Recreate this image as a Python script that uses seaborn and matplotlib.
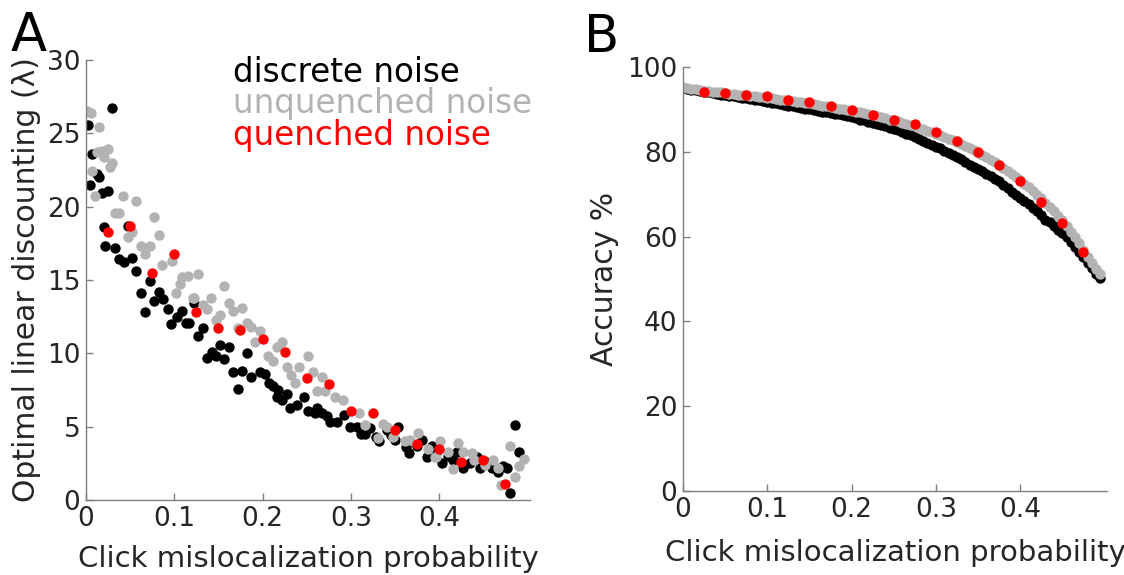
import numpy as np
import pandas as pd
import matplotlib
matplotlib.use("Agg")
import matplotlib.pyplot as plt
import seaborn as sns

# ---------------- Panel A data ----------------
discrete_x = [0.002, 0.005, 0.007, 0.012, 0.015, 0.018, 0.020, 0.022, 0.025, 0.030,
              0.033, 0.037, 0.043, 0.048, 0.052, 0.057, 0.062, 0.067, 0.072, 0.077,
              0.083, 0.087, 0.093, 0.096, 0.103, 0.109, 0.113, 0.117, 0.122, 0.127,
              0.132, 0.137, 0.143, 0.147, 0.152, 0.156, 0.162, 0.166, 0.172, 0.177,
              0.182, 0.187, 0.197, 0.203, 0.207, 0.212, 0.216, 0.218, 0.222, 0.228,
              0.231, 0.239, 0.247, 0.251, 0.259, 0.262, 0.267, 0.273, 0.276, 0.284,
              0.292, 0.299, 0.307, 0.311, 0.316, 0.322, 0.328, 0.332, 0.341, 0.345,
              0.350, 0.354, 0.362, 0.366, 0.375, 0.381, 0.386, 0.392, 0.396, 0.403,
              0.410, 0.416, 0.420, 0.427, 0.435, 0.443, 0.446, 0.453, 0.460, 0.467,
              0.472, 0.477, 0.480, 0.486, 0.490]
discrete_y = [25.6, 21.5, 23.6, 22.2, 22.0, 20.9, 18.6, 17.3, 21.1, 26.7,
              17.2, 16.4, 16.2, 18.7, 16.5, 15.6, 14.1, 12.8, 14.9, 13.6,
              14.2, 13.7, 13.0, 12.0, 12.5, 12.9, 12.1, 12.1, 13.4, 11.2,
              11.7, 9.7, 10.1, 9.8, 10.6, 9.6, 10.4, 8.7, 7.6, 8.8,
              10.0, 8.4, 8.7, 8.6, 8.0, 7.8, 7.0, 7.5, 6.8, 7.2,
              6.3, 6.5, 7.0, 6.1, 5.9, 6.3, 5.9, 5.7, 5.3, 5.3,
              5.8, 5.0, 5.0, 4.5, 4.5, 4.9, 4.3, 4.0, 4.8, 4.4,
              4.1, 5.0, 3.6, 3.2, 3.7, 4.1, 2.9, 3.7, 3.2, 2.5,
              3.0, 2.7, 3.3, 2.2, 2.5, 2.9, 2.2, 2.6, 2.2, 1.9,
              2.3, 2.2, 0.5, 5.1, 3.3]

unquenched_x = [0.001, 0.006, 0.007, 0.010, 0.012, 0.015, 0.018, 0.020, 0.025, 0.027,
                0.030, 0.033, 0.037, 0.042, 0.048, 0.052, 0.057, 0.062, 0.067, 0.072,
                0.077, 0.083, 0.086, 0.097, 0.102, 0.107, 0.109, 0.115, 0.121, 0.122,
                0.127, 0.132, 0.137, 0.142, 0.147, 0.152, 0.156, 0.162, 0.166, 0.172,
                0.177, 0.182, 0.187, 0.191, 0.197, 0.206, 0.212, 0.216, 0.222, 0.228,
                0.232, 0.237, 0.241, 0.251, 0.257, 0.262, 0.267, 0.271, 0.282, 0.291,
                0.309, 0.316, 0.331, 0.336, 0.341, 0.348, 0.361, 0.367, 0.376, 0.387,
                0.395, 0.397, 0.401, 0.410, 0.416, 0.421, 0.427, 0.437, 0.440, 0.452,
                0.461, 0.467, 0.470, 0.480, 0.486, 0.490, 0.496]
unquenched_y = [26.5, 26.4, 22.4, 20.7, 23.7, 25.4, 23.8, 23.4, 23.9, 22.7,
                23.0, 19.6, 19.6, 20.7, 17.9, 18.3, 20.4, 17.3, 16.8, 17.3,
                19.3, 18.1, 16.0, 16.3, 14.1, 14.7, 15.2, 15.3, 13.8, 13.8,
                15.4, 13.3, 13.0, 13.8, 12.3, 12.6, 14.6, 13.4, 12.9, 11.7,
                13.1, 12.1, 11.8, 10.8, 11.5, 9.8, 9.5, 10.4, 10.8, 9.1,
                8.5, 8.0, 9.1, 9.8, 8.7, 7.4, 8.4, 7.4, 7.0, 6.8,
                5.9, 5.1, 4.2, 5.2, 5.0, 4.3, 4.0, 4.1, 4.6, 3.5,
                2.9, 2.9, 4.0, 3.3, 2.1, 3.9, 3.3, 3.2, 2.7, 2.4,
                2.7, 2.2, 1.0, 3.7, 1.6, 2.3, 2.8]

quenched_x = [0.025, 0.050, 0.075, 0.100, 0.125, 0.150, 0.175, 0.200, 0.225, 0.250,
              0.275, 0.300, 0.325, 0.350, 0.375, 0.400, 0.425, 0.450, 0.475]
quenched_lambda = [18.3, 18.7, 15.5, 16.8, 12.8, 11.7, 11.6, 11.0, 10.1, 8.3,
                   7.9, 6.1, 5.9, 4.8, 3.8, 3.5, 2.6, 2.7, 1.1]

# ---------------- Panel B data ----------------
acc_x = [0.000, 0.005, 0.010, 0.015, 0.020, 0.025, 0.030, 0.035, 0.040, 0.045,
         0.050, 0.055, 0.060, 0.065, 0.070, 0.075, 0.080, 0.085, 0.090, 0.095,
         0.100, 0.105, 0.110, 0.115, 0.120, 0.125, 0.130, 0.135, 0.140, 0.145,
         0.150, 0.155, 0.160, 0.165, 0.170, 0.175, 0.180, 0.185, 0.190, 0.195,
         0.200, 0.205, 0.210, 0.215, 0.220, 0.225, 0.230, 0.235, 0.240, 0.245,
         0.250, 0.255, 0.260, 0.265, 0.270, 0.275, 0.280, 0.285, 0.290, 0.295,
         0.300, 0.305, 0.310, 0.315, 0.320, 0.325, 0.330, 0.335, 0.340, 0.345,
         0.350, 0.355, 0.360, 0.365, 0.370, 0.375, 0.380, 0.385, 0.390, 0.395,
         0.400, 0.405, 0.410, 0.415, 0.420, 0.425, 0.430, 0.435, 0.440, 0.445,
         0.450, 0.455, 0.460, 0.465, 0.470, 0.475, 0.480, 0.485, 0.490, 0.495]
acc_discrete = [95.0, 94.8, 94.6, 94.5, 94.3, 94.1, 94.0, 93.8, 93.7, 93.5,
                93.4, 93.2, 93.1, 92.9, 92.8, 92.6, 92.4, 92.3, 92.1, 91.9,
                91.8, 91.6, 91.5, 91.3, 91.1, 90.9, 90.8, 90.6, 90.4, 90.2,
                90.1, 89.9, 89.7, 89.5, 89.3, 89.1, 88.9, 88.8, 88.6, 88.4,
                88.2, 87.9, 87.6, 87.4, 87.1, 86.9, 86.6, 86.3, 86.0, 85.7,
                85.4, 85.1, 84.7, 84.3, 83.9, 83.5, 83.0, 82.6, 82.1, 81.7,
                81.2, 80.8, 80.3, 79.8, 79.3, 78.8, 78.2, 77.6, 77.0, 76.4,
                75.9, 75.4, 74.8, 74.2, 73.6, 73.0, 72.2, 71.4, 70.6, 69.9,
                69.1, 68.4, 67.6, 66.8, 66.0, 65.2, 64.0, 63.4, 62.5, 61.6,
                60.8, 59.8, 58.8, 57.6, 56.4, 55.1, 53.8, 52.5, 51.2, 50.2]
acc_unquenched = [95.3, 95.1, 94.9, 94.8, 94.6, 94.4, 94.3, 94.2, 94.1, 94.0,
                  93.9, 93.7, 93.6, 93.5, 93.4, 93.3, 93.2, 93.1, 93.0, 92.9,
                  92.8, 92.6, 92.5, 92.3, 92.2, 92.1, 92.0, 91.8, 91.7, 91.5,
                  91.4, 91.2, 91.1, 90.9, 90.8, 90.6, 90.4, 90.2, 90.1, 89.9,
                  89.7, 89.5, 89.3, 89.1, 88.9, 88.6, 88.4, 88.1, 87.9, 87.6,
                  87.4, 87.2, 86.9, 86.6, 86.3, 86.0, 85.7, 85.4, 85.0, 84.7,
                  84.3, 83.9, 83.5, 83.1, 82.7, 82.3, 81.8, 81.4, 80.9, 80.4,
                  79.8, 79.3, 78.7, 78.1, 77.5, 76.9, 76.2, 75.5, 74.8, 74.1,
                  73.3, 72.5, 71.7, 70.8, 69.9, 69.0, 68.0, 67.0, 66.0, 64.9,
                  63.8, 62.5, 61.2, 59.8, 58.4, 56.9, 55.3, 53.7, 52.3, 51.2]
acc_quenched = [94.2, 93.9, 93.4, 93.1, 92.3, 91.7, 90.8, 89.9, 88.7, 87.5,
                86.6, 84.7, 82.5, 79.9, 76.9, 73.1, 68.2, 63.2, 56.4]

xticks = [0, 0.1, 0.2, 0.3, 0.4]
xtick_labels = ["0", "0.1", "0.2", "0.3", "0.4"]
yticks_a = [0, 5, 10, 15, 20, 25, 30]
yticks_b = [0, 20, 40, 60, 80, 100]

legend_labels = ["discrete noise", "unquenched noise", "quenched noise"]
c_black = "#000000"
c_gray = "#b3b3b3"
c_red = "#ff0000"

sns.set_style("white")
plt.rcParams['font.family'] = ['DejaVu Sans']

fig = plt.figure(figsize=(11.24, 5.75), dpi=100)
W, H = 1124, 575
axA = fig.add_axes([86 / W, 1 - 500 / H, (530 - 86) / W, 440 / H])
axB = fig.add_axes([683 / W, 1 - 491 / H, (1107 - 683) / W, 424 / H])

ms = 56
sns.scatterplot(x=discrete_x, y=discrete_y, ax=axA, color=c_black, s=ms, linewidth=0)
sns.scatterplot(x=unquenched_x, y=unquenched_y, ax=axA, color=c_gray, s=ms, linewidth=0)
sns.scatterplot(x=quenched_x, y=quenched_lambda, ax=axA, color=c_red, s=ms, linewidth=0)

sns.scatterplot(x=acc_x, y=acc_discrete, ax=axB, color=c_black, s=ms, linewidth=0)
sns.scatterplot(x=acc_x, y=acc_unquenched, ax=axB, color=c_gray, s=ms, linewidth=0)
sns.scatterplot(x=quenched_x, y=acc_quenched, ax=axB, color=c_red, s=ms, linewidth=0)

tick_col = "#262626"
spine_col = "#7f7f7f"
for ax, yt, lp in ((axA, yticks_a, 10), (axB, yticks_b, 12)):
    ax.set_xlim(0, 0.503)
    ax.set_xticks(xticks)
    ax.set_xticklabels(xtick_labels)
    ax.set_yticks(yt)
    ax.set_ylim(yt[0], yt[-1])
    for s in ("top", "right"):
        ax.spines[s].set_visible(False)
    for s in ("left", "bottom"):
        ax.spines[s].set_color(spine_col)
        ax.spines[s].set_linewidth(1.0)
    ax.tick_params(direction="in", length=5, width=1, color=spine_col,
                   labelsize=19, labelcolor=tick_col, pad=4,
                   left=True, bottom=True)
    ax.set_xlabel("Click mislocalization probability", fontsize=21, color=tick_col, labelpad=lp)
    ax.patch.set_alpha(0)

axA.set_ylabel("Optimal linear discounting (λ)", fontsize=21.5, color=tick_col, labelpad=4)
axB.set_ylabel("Accuracy %", fontsize=21.5, color=tick_col, labelpad=6)

for lab, col, yb in zip(legend_labels, [c_black, c_gray, c_red], [82, 113, 145]):
    fig.text(233 / W, 1 - yb / H, lab, color=col, fontsize=23.5, va="baseline", ha="left")

fig.text(11 / W, 1 - 51 / H, "A", fontsize=38, va="baseline", ha="left", color="black")
fig.text(584 / W, 1 - 52 / H, "B", fontsize=37, va="baseline", ha="left", color="black")

fig.savefig("out.png", dpi=100)
